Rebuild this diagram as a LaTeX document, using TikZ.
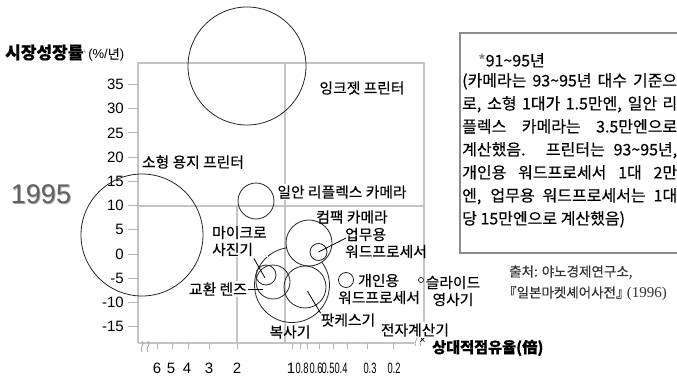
\documentclass[tikz,border=0pt]{standalone}
\usepackage{fontspec}
\setmainfont{Liberation Sans}
\newfontfamily\kr[FakeBold=0.4]{Noto Sans CJK KR}
\newfontfamily\serifnum{Liberation Serif}

\newcommand{\noteline}[1]{\makebox[215pt][s]{#1}}

\begin{document}
\begin{tikzpicture}[x=1pt,y=-1pt,
    frameline/.style={draw=black!23, line width=1.5pt},
    tickline/.style={draw=black!30, line width=1pt},
    bubble/.style={circle, draw=black!85, line width=0.8pt, inner sep=0pt},
    ticklbl/.style={font=\fontsize{15}{15}\selectfont, inner sep=0pt},
    lbl/.style={font=\kr\fontsize{14.8}{17}\selectfont, inner sep=1pt},
    callout/.style={draw=black, line width=0.8pt},
    breakmark/.style={draw=black!40, line width=0.7pt}]
  \useasboundingbox (0,0) rectangle (677,377);

  % frame and grid
  \draw[frameline] (138,343) -- (138,63) -- (424,63) -- (424,338);
  \draw[frameline] (138,343) -- (414,343);
  \draw[frameline] (285,63) -- (285,343);
  \draw[frameline] (138,206) -- (424,206);
  \draw[frameline] (237,206) -- (237,343);

  % y axis
  \foreach \v in {35,30,...,-15} {
    \draw[tickline] (128,{254-4.84*\v}) -- (138,{254-4.84*\v});
    \node[ticklbl, anchor=east] at (124,{254-4.84*\v}) {\v};
  }
  % x axis
  \foreach \x in {157,172,188,209,237,292,300,307,319,333,347,367,393}
    \draw[tickline] (\x,343) -- (\x,349);
  \foreach \x/\t in {157/6,171/5,187/4,209/3,237/2,291/1}
    \node[ticklbl] at (\x,368) {\t};
  \foreach \x/\t in {302/8,316/6,328/5,341/4,370/3,394/2}
    \node[ticklbl] at (\x,368) {\scalebox{0.62}[1]{0.\t}};

  % axis breaks
  \draw[breakmark] (142,341) .. controls (146,344) and (138,349) .. (142,352);
  \draw[breakmark] (148,341) .. controls (152,344) and (144,349) .. (148,352);
  \draw[breakmark] (416,335) .. controls (420,338) and (412,343) .. (416,346);
  \draw[breakmark] (421,335) .. controls (425,338) and (417,343) .. (421,346);
  \draw[line width=0.7pt] (420.5,337.5) -- (424.5,341.5) (420.5,341.5) -- (424.5,337.5);

  % bubbles
  \node[bubble, minimum size=118pt] (inkjet) at (247,66) {};
  \node[bubble, minimum size=122pt] (smallprinter) at (142,235) {};
  \node[bubble, minimum size=36pt] (slr) at (256,201) {};
  \node[bubble, minimum size=75pt] (copier) at (292,285) {};
  \node[bubble, fill=white, minimum size=46pt] (compact) at (309,243) {};
  \node[bubble, minimum size=17pt] (officewp) at (318.5,252) {};
  \node[bubble, minimum size=34pt] (lens) at (273,282) {};
  \node[bubble, minimum size=20pt] (micro) at (266,275) {};
  \node[bubble, minimum size=42pt] (fax) at (305,287) {};
  \node[bubble, minimum size=15pt] (homewp) at (346,280) {};
  \node[bubble, minimum size=5pt] (slide) at (421,280) {};

  % labels
  \node[lbl] (inkjetlbl) at (362,88) {잉크젯 프린터};
  \node[lbl] (smallprinterlbl) at (193,162) {소형 용지 프린터};
  \node[lbl, fill=white] (slrlbl) at (342,192) {일안 리플렉스 카메라};
  \node[lbl] (compactlbl) at (352,217) {컴팩 카메라};
  \node[lbl, align=left, anchor=west] (officewplbl) at (344,243) {업무용\\워드프로세서};
  \node[lbl, fill=white, align=left, anchor=west] (microlbl) at (211,241) {마이크로\\사진기};
  \node[lbl, fill=white, anchor=east] (lenslbl) at (248,289) {교환 렌즈};
  \node[lbl] (copierlbl) at (290,332) {복사기};
  \node[lbl] (faxlbl) at (348,320) {팟케스기};
  \node[lbl, align=left, anchor=west] (homewplbl) at (337,289) {\hspace*{20pt}개인용\\워드프로세서};
  \node[lbl, align=center] (slidelbl) at (453,291) {슬라이드\\영사기};
  \node[lbl, fill=white] (calclbl) at (415,330) {전자계산기};

  % callouts
  \coordinate (lensend) at (263,289);
  \draw[callout] ([shift={(2,-5)}]officewplbl.west) -- (officewp.center);
  \draw[callout] ([shift={(-14,1)}]microlbl.south east) -- ([shift={(-1,3)}]micro.center);
  \draw[callout] (lenslbl.east) -- (lensend);
  \draw[callout, shorten >=5pt] ([shift={(1,1)}]faxlbl.north west) -- (fax.center);

  % axis titles
  \node[anchor=west, inner sep=0pt] (ytitle) at (5,53)
    {{\kr\bfseries\fontsize{17}{17}\selectfont 시장성장률}\textsuperscript{\color{black!50}*}\,{\fontsize{13}{13}\selectfont(\%/{\kr 년})}};
  \node[anchor=west, inner sep=0pt, font=\kr\bfseries\fontsize{15.2}{15.2}\selectfont] (xtitle) at (432,348) {상대적점유율(倍)};
  \node[font=\fontsize{27}{27}\selectfont, text=black!35] at (42,195) {1995};
  \node[font=\fontsize{27}{27}\selectfont, text=black!62] (year) at (41,194) {1995};

  % note
  \draw[draw=black!45, line width=2pt] (690,33) -- (460,33) -- (460,253) -- (690,253);
  \node[anchor=north west, align=left, inner sep=0pt, font=\kr\fontsize{16}{23}\selectfont] (note) at (462,53)
    {\hspace*{16pt}{\color{black!50}*}91\textasciitilde95년\\[-3pt]
     \noteline{(카메라는 93\textasciitilde95년 대수 기준으}\\
     \noteline{로, 소형 1대가 1.5만엔, 일안 리}\\
     \noteline{플렉스 카메라는 3.5만엔으로}\\
     \noteline{계산했음. 프린터는 93\textasciitilde95년,}\\
     \noteline{개인용 워드프로세서 1대 2만}\\
     \noteline{엔, 업무용 워드프로세서는 1대}\\
     당 15만엔으로 계산했음)};

  % source
  \node[anchor=west, align=left, inner sep=0pt, text=black!80, font=\kr\fontsize{13.5}{21}\selectfont] (source) at (509,283)
    {출처: 야노경제연구소,\\\hspace*{-0.45em}『일본마켓셰어사전』\hspace{-0.2em}{\serifnum\fontsize{15}{21}\selectfont(1996)}};
\end{tikzpicture}
\end{document}
